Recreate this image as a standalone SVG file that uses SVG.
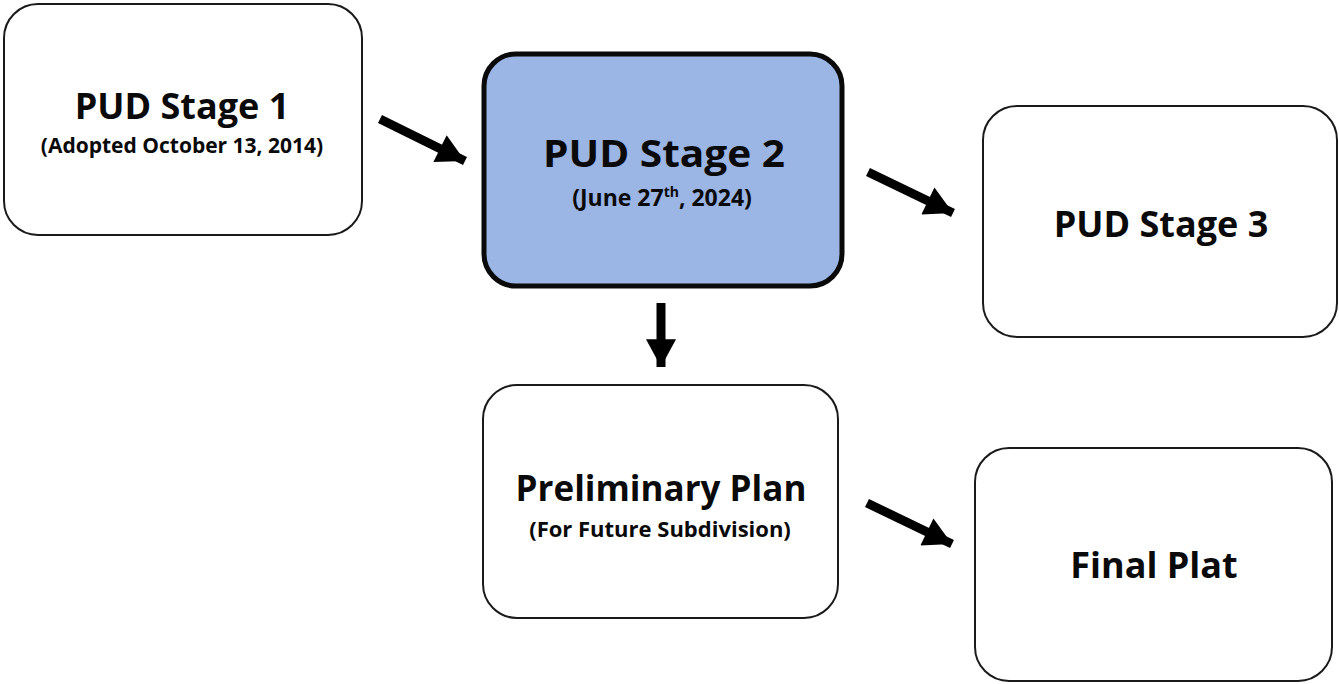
<svg xmlns="http://www.w3.org/2000/svg" width="1339" height="684" viewBox="0 0 1339 684">
<style>
.box{fill:#ffffff;stroke:#1a1a1a;stroke-width:2}
.hl{fill:#9bb5e5;stroke:#0a0a0a;stroke-width:5}
.t{font-family:"Open Sans","Noto Sans","Liberation Sans",sans-serif;font-weight:700;fill:#0a0a0a;text-anchor:middle}
.big{font-size:36px}
.sm{font-size:21px}
.arrow{stroke:#000;stroke-width:9;fill:none;marker-end:url(#ah)}
</style>
<defs>
<marker id="ah" markerUnits="userSpaceOnUse" markerWidth="30" markerHeight="30" viewBox="0 0 26 28" refX="26" refY="14" orient="auto">
<path d="M0,0 L26,14 L0,28 Z" fill="#000"/>
</marker>
</defs>
<rect width="1339" height="684" fill="#ffffff"/>
<g id="connectors">
<line class="arrow" x1="380" y1="119" x2="465" y2="161"/>
<line class="arrow" x1="868" y1="172" x2="953" y2="213"/>
<line class="arrow" x1="661" y1="303" x2="661" y2="367"/>
<line class="arrow" x1="867" y1="503" x2="952" y2="544"/>
</g>
<g id="stage1">
<rect class="box" x="4" y="4" width="358" height="231" rx="34"/>
<text class="t big" x="182" y="119">PUD Stage 1</text>
<text class="t sm" x="182" y="153">(Adopted October 13, 2014)</text>
</g>
<g id="stage2">
<rect class="hl" x="484" y="54" width="358" height="232" rx="32"/>
<text class="t big" x="664" y="167" style="font-size:37px" textLength="242" lengthAdjust="spacingAndGlyphs">PUD Stage 2</text>
<text class="t" x="662" y="206" style="font-size:23px">(June 27<tspan style="font-size:14px" dy="-9">th</tspan><tspan dy="9">, 2024)</tspan></text>
</g>
<g id="stage3">
<rect class="box" x="983" y="106" width="354" height="231" rx="34"/>
<text class="t big" x="1161" y="237">PUD Stage 3</text>
</g>
<g id="prelim">
<rect class="box" x="483" y="385" width="355" height="233" rx="34"/>
<text class="t big" x="661" y="501" style="font-size:35px">Preliminary Plan</text>
<text class="t" x="660" y="537" style="font-size:22px">(For Future Subdivision)</text>
</g>
<g id="final">
<rect class="box" x="975" y="448" width="357" height="233" rx="34"/>
<text class="t big" x="1154" y="578">Final Plat</text>
</g>
</svg>
